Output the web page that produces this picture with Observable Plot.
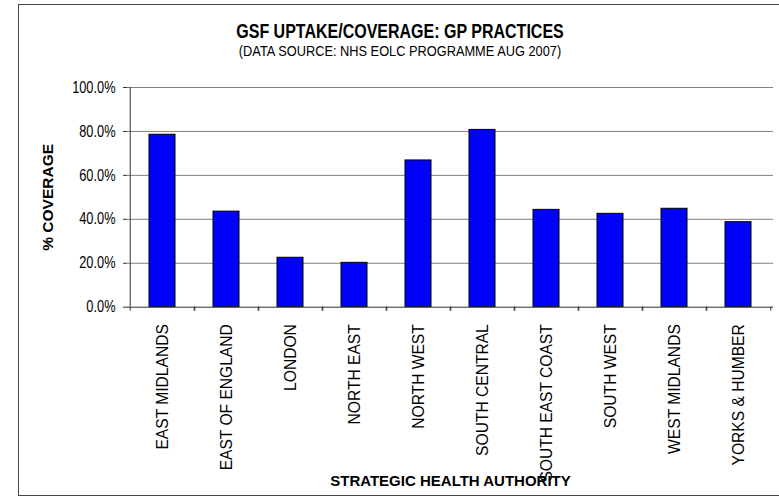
<!DOCTYPE html>
<html>
<head>
<meta charset="utf-8">
<script src="https://cdn.jsdelivr.net/npm/d3@7"></script>
<script src="https://cdn.jsdelivr.net/npm/@observablehq/plot@0.6"></script>
<style>
  body { margin: 0; background: #fff; font-family: "Liberation Sans", Arial, sans-serif; }
  #wrap { position: relative; width: 779px; height: 496px; overflow: hidden; background: #fff; }
  #frame { position: absolute; left: 18px; top: 4px; width: 800px; height: 492px; border: 1px solid #444; box-sizing: border-box; pointer-events: none; }
  #header { position: relative; height: 60px; }
  .t { position: absolute; left: 18px; width: 764px; text-align: center; transform-origin: center; white-space: nowrap; color: #000; }
  #title { top: 22px; font-size: 20px; line-height: 18px; font-weight: bold; transform: scaleX(0.8); }
  #subtitle { top: 43.8px; font-size: 15px; line-height: 14px; transform: scaleX(0.853); }
  #chart svg { display: block; }
</style>
</head>
<body>
<div id="wrap">
  <div id="header">
    <div id="title" class="t"></div>
    <div id="subtitle" class="t"></div>
  </div>
  <div id="chart"></div>
  <div id="frame"></div>
</div>
<script>
const titleText = "GSF UPTAKE/COVERAGE: GP PRACTICES";
const subtitleText = "(DATA SOURCE: NHS EOLC PROGRAMME AUG 2007)";
const xTitle = "STRATEGIC HEALTH AUTHORITY";
const yTitle = "% COVERAGE";

const regions = ["EAST MIDLANDS", "EAST OF ENGLAND", "LONDON", "NORTH EAST", "NORTH WEST",
                 "SOUTH CENTRAL", "SOUTH EAST COAST", "SOUTH WEST", "WEST MIDLANDS", "YORKS & HUMBER"];
const coverage = [0.785, 0.435, 0.225, 0.202, 0.668, 0.807, 0.443, 0.425, 0.448, 0.387];
const yTicks = [0, 0.2, 0.4, 0.6, 0.8, 1.0];
const yDomain = [0, 1];

document.getElementById("title").textContent = titleText;
document.getElementById("subtitle").textContent = subtitleText;

const W = 779, H = 436, mL = 127, mR = 6, mT = 27, mB = 189.3;
const step = (W - mL - mR) / regions.length;
const data = regions.map((r, i) => ({region: r, value: coverage[i]}));

const chart = Plot.plot({
  width: W, height: H,
  marginLeft: mL, marginRight: mR, marginTop: mT, marginBottom: mB,
  style: {fontFamily: '"Liberation Sans", Arial, sans-serif', fontSize: "16px", color: "#000", background: "#fff"},
  x: {domain: regions, paddingInner: 0.59, paddingOuter: 0.295, label: null},
  y: {domain: yDomain, label: null},
  marks: [
    Plot.gridY({ticks: yTicks.slice(1), stroke: "#808080", strokeOpacity: 1}),
    Plot.barY(data, {x: "region", y: "value", fill: "#0000FF", stroke: "#000", strokeWidth: 1}),
    Plot.ruleY([yDomain[0]], {stroke: "#333"}),
    Plot.ruleX([regions[0]], {x: d => d, dx: -step / 2, y1: () => yDomain[0], y2: () => yDomain[1], stroke: "#333"}),
    Plot.axisY({ticks: yTicks, tickSize: 4, tickPadding: 8, tickFormat: d3.format(".1%"), label: null, stroke: "#333", fontSize: 16}),
    Plot.axisX({tickSize: 0, tickPadding: 17, tickRotate: -90, fontSize: 15.6, label: null}),
    Plot.axisX({tickSize: 4, dx: step / 2, tickFormat: () => "", label: null, stroke: "#333"}),
    Plot.axisX({tickSize: 4, dx: -step / 2, tickFormat: () => "", label: null, stroke: "#333"}),
    Plot.text([yTitle], {text: d => d, frameAnchor: "left", textAnchor: "middle", lineAnchor: "middle", rotate: -90, dx: -79, fontWeight: "bold", fontSize: 15.5}),
    Plot.text([xTitle], {text: d => d, frameAnchor: "bottom", dy: 178.3, fontWeight: "bold", fontSize: 15})
  ]
});
document.getElementById("chart").append(chart);

// horizontal tick labels are drawn condensed in the reference
chart.querySelectorAll('g[aria-label="y-axis tick label"] text').forEach(t => {
  const ax = +(t.getAttribute("x") || 0);
  const tr = t.getAttribute("transform") || "";
  t.setAttribute("transform", `${tr} translate(${ax},0) scale(0.8,1) translate(${-ax},0)`);
});
</script>
</body>
</html>
